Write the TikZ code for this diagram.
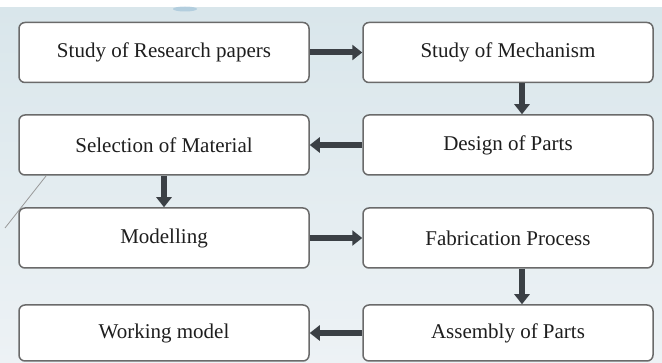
\documentclass[tikz,border=0pt]{standalone}
\usepackage{fontspec}
\setmainfont{Liberation Serif}
\usetikzlibrary{arrows.meta}
\definecolor{bgblue}{HTML}{D9E6EB}
\definecolor{bglight}{HTML}{EDF2F5}
\definecolor{smudge}{HTML}{8FB8D3}
\definecolor{boxline}{HTML}{6A6A6A}
\definecolor{arrowgray}{HTML}{3B4045}
\definecolor{txtgray}{HTML}{1E1E1E}
\begin{document}
\begin{tikzpicture}[x=1pt,y=-1pt,
  stepbox/.style={draw=boxline, line width=1.5pt, fill=white, rounded corners=6pt,
    minimum width=290pt, minimum height=60pt, inner sep=0pt,
    text=txtgray, font=\fontsize{21}{24}\selectfont},
  flow/.style={draw=arrowgray, line width=6pt,
    -{Triangle[width=15pt,length=10pt]}}]
  % page background
  \useasboundingbox (0,0) rectangle (662,363);
  \fill[white] (0,0) rectangle (662,8);
  \shade[top color=bgblue, bottom color=bglight] (0,8) rectangle (662,363);
  \fill[smudge, opacity=0.5] (185,9) ellipse (12pt and 2.5pt);
  \draw[gray!80, line width=0.8pt] (46,176) -- (5,228);
  % process steps
  \node[stepbox] (research) at (164,52.5) {Study of Research papers};
  \node[stepbox] (mech)     at (508,52.5) {Study of Mechanism};
  \node[stepbox] (design)   at (508,145)  {Design of Parts};
  \node[stepbox] (material) at (164,145)  {Selection of Material};
  \node[stepbox] (model)    at (164,238)  {Modelling};
  \node[stepbox] (fab)      at (508,238)  {Fabrication Process};
  \node[stepbox, minimum height=56pt] (assembly) at (508,333) {Assembly of Parts};
  \node[stepbox, minimum height=56pt] (working)  at (164,333) {Working model};
  % connectors
  \draw[flow] (research.east) -- (mech.west);
  \draw[flow] ([xshift=14pt]mech.south) -- ([xshift=14pt]design.north);
  \draw[flow] (design.west) -- (material.east);
  \draw[flow] (material.south) -- (model.north);
  \draw[flow] (model.east) -- (fab.west);
  \draw[flow] ([xshift=14pt]fab.south) -- ([xshift=14pt]assembly.north);
  \draw[flow] (assembly.west) -- (working.east);
\end{tikzpicture}
\end{document}
